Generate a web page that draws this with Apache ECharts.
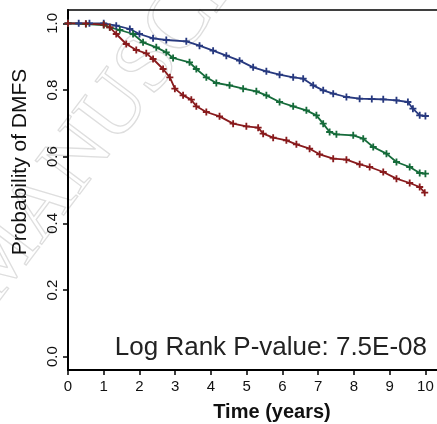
<!DOCTYPE html>
<html>
<head>
<meta charset="utf-8">
<script src="https://cdn.jsdelivr.net/npm/echarts@6/dist/echarts.min.js"></script>
<style>html,body{margin:0;padding:0;background:#fff;}#c{width:437px;height:424px;}</style>
</head>
<body>
<div id="c"></div>
<script>
// ---- data ----
const blueTime = [0, 0.3, 0.6, 1.0, 1.35, 1.73, 2.0, 2.38, 2.75, 3.31, 3.68, 4.06, 4.43, 4.8, 5.18, 5.55, 5.92, 6.3, 6.58, 6.86, 7.14, 7.42, 7.79, 8.16, 8.5, 8.82, 9.19, 9.51, 9.65, 9.84, 10.0];
const blueSurv = [1.0, 1.0, 1.0, 1.0, 0.993, 0.983, 0.968, 0.955, 0.95, 0.946, 0.933, 0.918, 0.903, 0.888, 0.868, 0.856, 0.846, 0.838, 0.834, 0.814, 0.799, 0.789, 0.779, 0.774, 0.773, 0.772, 0.769, 0.764, 0.744, 0.724, 0.722];

const greenTime = [0, 0.5, 1.0, 1.17, 1.45, 1.82, 2.1, 2.47, 2.75, 2.94, 3.4, 3.59, 3.87, 4.15, 4.52, 4.9, 5.27, 5.55, 5.92, 6.3, 6.67, 6.95, 7.14, 7.32, 7.51, 7.98, 8.26, 8.54, 8.91, 9.19, 9.56, 9.84, 10.0];
const greenSurv = [1.0, 0.998, 0.995, 0.988, 0.98, 0.968, 0.943, 0.928, 0.913, 0.896, 0.883, 0.863, 0.838, 0.821, 0.814, 0.804, 0.796, 0.784, 0.764, 0.751, 0.739, 0.724, 0.699, 0.674, 0.667, 0.664, 0.654, 0.629, 0.609, 0.584, 0.569, 0.551, 0.549];

const redTime = [0, 0.5, 1.0, 1.17, 1.35, 1.63, 1.91, 2.19, 2.38, 2.66, 2.85, 2.99, 3.22, 3.45, 3.59, 3.87, 4.24, 4.62, 4.99, 5.32, 5.46, 5.74, 6.11, 6.39, 6.76, 7.04, 7.42, 7.79, 8.16, 8.44, 8.82, 9.19, 9.56, 9.84, 9.98];
const redSurv = [1.0, 0.999, 0.996, 0.988, 0.968, 0.938, 0.92, 0.91, 0.893, 0.863, 0.838, 0.804, 0.784, 0.771, 0.751, 0.734, 0.721, 0.699, 0.691, 0.687, 0.669, 0.657, 0.649, 0.637, 0.624, 0.607, 0.594, 0.591, 0.577, 0.569, 0.554, 0.534, 0.521, 0.509, 0.492];

const xTicks = [0, 1, 2, 3, 4, 5, 6, 7, 8, 9, 10];
const yTicks = [0, 0.2, 0.4, 0.6, 0.8, 1.0];
const pValueText = 'Log Rank P-value: 7.5E-08';
const xTitle = 'Time (years)';
const yTitle = 'Probability of DMFS';
const watermark = 'MANUSCRIPT';

// ---- chart ----
const FONT = '"Liberation Sans", Arial, Helvetica, sans-serif';
const plus = 'path://M3.7,0H6.3V3.7H10V6.3H6.3V10H3.7V6.3H0V3.7H3.7Z';
function pairs(t, s) { return t.map((v, i) => [v, s[i]]); }
function mk(name, color, t, s) {
  return {
    name, type: 'line', data: pairs(t, s),
    symbol: plus, symbolSize: 7, showSymbol: true,
    lineStyle: { color, width: 1.8 },
    itemStyle: { color },
    emphasis: { disabled: true },
    animation: false, z: 3
  };
}

const chart = echarts.init(document.getElementById('c'), null, { renderer: 'canvas' });
chart.setOption({
  animation: false,
  backgroundColor: '#fff',
  grid: { left: 68, right: -2, top: 10, bottom: 54, outerBoundsMode: 'none', containLabel: false,
    show: true, borderColor: '#000', borderWidth: 1.6, backgroundColor: 'transparent' },
  xAxis: {
    type: 'value', min: 0, max: 10.38,
    axisLine: { show: true, onZero: false, lineStyle: { color: '#000', width: 2 } },
    axisTick: { show: true, length: 5, lineStyle: { color: '#000', width: 1.5 }, customValues: xTicks },
    axisLabel: { customValues: xTicks, color: '#111', fontSize: 15, fontFamily: FONT, margin: 9 },
    splitLine: { show: false }
  },
  yAxis: {
    type: 'value', min: -0.04, max: 1.04,
    axisLine: { show: true, onZero: false, lineStyle: { color: '#000', width: 2 } },
    axisTick: { show: true, length: 5, lineStyle: { color: '#000', width: 1.5 }, customValues: yTicks },
    axisLabel: { customValues: yTicks, rotate: 90, color: '#111', fontSize: 15, fontFamily: FONT, margin: 8,
      formatter: v => v.toFixed(1) },
    splitLine: { show: false }
  },
  graphic: [
    { type: 'text', x: -22, y: 292, rotation: 0.925, z: -10, silent: true,
      style: { text: watermark, fontSize: 85, fontFamily: '"Liberation Serif", "Times New Roman", serif',
        align: 'left', verticalAlign: 'middle', fill: 'none', stroke: '#dedede', lineWidth: 1.3 } },
    { type: 'text', x: 20, y: 162, rotation: Math.PI / 2, silent: true,
      style: { text: yTitle, fontSize: 21, fontFamily: FONT, align: 'center', verticalAlign: 'middle', fill: '#111' } },
    { type: 'text', x: 272, y: 412, silent: true,
      style: { text: xTitle, fontSize: 20, fontWeight: 'bold', fontFamily: FONT, align: 'center', verticalAlign: 'middle', fill: '#111' } },
    { type: 'text', x: 427, y: 361, silent: true,
      style: { text: pValueText, fontSize: 26, fontFamily: FONT, align: 'right', verticalAlign: 'bottom', fill: '#222' } }
  ],
  series: [
    mk('blue', '#27397f', blueTime, blueSurv),
    mk('green', '#156b3a', greenTime, greenSurv),
    mk('red', '#881a1c', redTime, redSurv)
  ]
});
</script>
</body>
</html>
